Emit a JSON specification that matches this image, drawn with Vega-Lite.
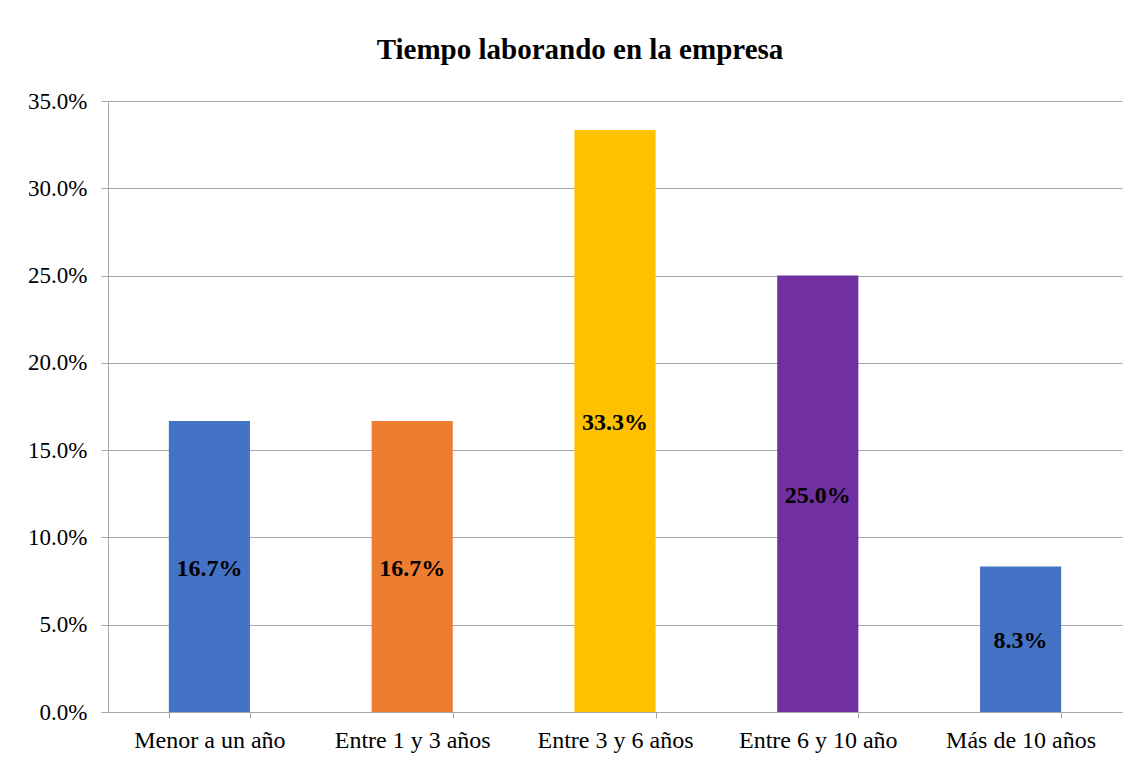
{
  "$schema": "https://vega.github.io/schema/vega-lite/v6.json",
  "autosize": "none",
  "width": 1014,
  "height": 611,
  "padding": {"left": 108, "top": 101, "right": 18, "bottom": 48},
  "background": "white",
  "title": {
    "text": "Tiempo laborando en la empresa",
    "font": "Liberation Serif",
    "fontSize": 29,
    "fontWeight": "bold",
    "color": "black",
    "anchor": "middle",
    "dx": -35,
    "offset": 25
  },
  "data": {
    "values": [
      {"cat": "Menor a un año", "v": 0.16667, "grp": "a"},
      {"cat": "Entre 1 y 3 años", "v": 0.16667, "grp": "b"},
      {"cat": "Entre 3 y 6 años", "v": 0.33333, "grp": "c"},
      {"cat": "Entre 6 y 10 año", "v": 0.25, "grp": "d"},
      {"cat": "Más de 10 años", "v": 0.08333, "grp": "e"}
    ]
  },
  "transform": [{"calculate": "datum.v / 2", "as": "mid"}],
  "encoding": {
    "x": {
      "field": "cat",
      "type": "nominal",
      "sort": null,
      "scale": {"paddingInner": 0.6, "paddingOuter": 0.3},
      "axis": {
        "title": null,
        "labelAngle": 0,
        "labelFont": "Liberation Serif",
        "labelFontSize": 24,
        "labelColor": "black",
        "labelPadding": 10,
        "domainColor": "#A6A6A6",
        "tickColor": "#A6A6A6",
        "tickSize": 6,
        "tickBand": "extent",
        "grid": false
      }
    }
  },
  "layer": [
    {
      "mark": {"type": "bar"},
      "encoding": {
        "y": {
          "field": "v",
          "type": "quantitative",
          "scale": {"domain": [0, 0.35], "nice": false},
          "axis": {
            "title": null,
            "format": ".1%",
            "values": [0, 0.05, 0.1, 0.15, 0.2, 0.25, 0.3, 0.35],
            "labelFont": "Liberation Serif",
            "labelFontSize": 23,
            "labelColor": "black",
            "labelPadding": 14,
            "domainColor": "#A6A6A6",
            "tickColor": "#A6A6A6",
            "tickSize": 7,
            "gridColor": "#A6A6A6",
            "gridWidth": 1
          }
        },
        "color": {
          "field": "grp",
          "type": "nominal",
          "legend": null,
          "scale": {
            "domain": ["a", "b", "c", "d", "e"],
            "range": ["#4472C4", "#ED7D31", "#FFC000", "#7030A0", "#4472C4"]
          }
        }
      }
    },
    {
      "mark": {
        "type": "text",
        "font": "Liberation Serif",
        "fontSize": 24,
        "fontWeight": "bold",
        "color": "black",
        "baseline": "middle",
        "align": "center",
        "dy": 2
      },
      "encoding": {
        "y": {"field": "mid", "type": "quantitative"},
        "text": {"field": "v", "type": "quantitative", "format": ".1%"}
      }
    }
  ],
  "config": {"view": {"stroke": null}}
}
